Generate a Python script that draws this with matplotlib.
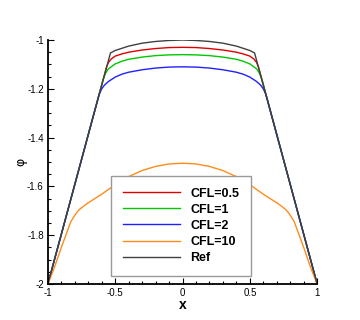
import matplotlib
matplotlib.use("Agg")
import matplotlib.pyplot as plt
from matplotlib.ticker import MultipleLocator, FormatStrFormatter

plt.rcParams['font.family'] = ['Liberation Sans', 'DejaVu Sans']
plt.rcParams['axes.unicode_minus'] = False

# curves
x_ref = [-1, -0.535, -0.5, -0.4, -0.3, -0.2, -0.1, 0, 0.1, 0.2, 0.3, 0.4, 0.5, 0.535, 1]
y_ref = [-2, -1.053, -1.043, -1.025, -1.013, -1.006, -1.002, -1.0,
         -1.002, -1.006, -1.013, -1.025, -1.043, -1.053, -2]

x_05 = [-1, -0.565, -0.55, -0.53, -0.5, -0.45, -0.4, -0.3, -0.2, -0.1, 0,
        0.1, 0.2, 0.3, 0.4, 0.45, 0.5, 0.53, 0.55, 0.565, 1]
y_05 = [-2, -1.112, -1.092, -1.078, -1.066, -1.057, -1.050, -1.041, -1.035, -1.031, -1.03,
        -1.031, -1.035, -1.041, -1.050, -1.057, -1.066, -1.078, -1.092, -1.112, -2]

x_1 = [-1, -0.59, -0.57, -0.55, -0.5, -0.45, -0.4, -0.3, -0.2, -0.1, 0,
       0.1, 0.2, 0.3, 0.4, 0.45, 0.5, 0.55, 0.57, 0.59, 1]
y_1 = [-2, -1.162, -1.135, -1.118, -1.098, -1.087, -1.079, -1.070, -1.064, -1.061, -1.06,
       -1.061, -1.064, -1.070, -1.079, -1.087, -1.098, -1.118, -1.135, -1.162, -2]

x_2 = [-1, -0.62, -0.6, -0.58, -0.55, -0.5, -0.45, -0.4, -0.3, -0.2, -0.1, 0,
       0.1, 0.2, 0.3, 0.4, 0.45, 0.5, 0.55, 0.58, 0.6, 0.62, 1]
y_2 = [-2, -1.224, -1.200, -1.185, -1.170, -1.152, -1.140, -1.132, -1.122, -1.115, -1.111, -1.11,
       -1.111, -1.115, -1.122, -1.132, -1.140, -1.152, -1.170, -1.185, -1.200, -1.224, -2]

x_10 = [-1, -0.95, -0.9, -0.86, -0.83, -0.8, -0.78, -0.76, -0.73, -0.7, -0.6, -0.5, -0.4,
        -0.3, -0.2, -0.1, 0, 0.1, 0.2, 0.3, 0.4, 0.5, 0.6, 0.7, 0.73, 0.76, 0.78, 0.8,
        0.83, 0.86, 0.9, 0.95, 1]
y_10 = [-2, -1.93, -1.85, -1.79, -1.745, -1.718, -1.703, -1.692, -1.679, -1.667, -1.632,
        -1.593, -1.560, -1.535, -1.518, -1.508, -1.505, -1.508, -1.518, -1.535, -1.560,
        -1.593, -1.632, -1.667, -1.679, -1.692, -1.703, -1.718, -1.745, -1.79, -1.85,
        -1.93, -2]

labels = ["CFL=0.5", "CFL=1", "CFL=2", "CFL=10", "Ref"]
colors = ["#e00000", "#00c800", "#2020ff", "#ff8c1a", "#404040"]

fig = plt.figure(figsize=(3.6, 3.2), dpi=100)
ax = fig.add_axes([0.133, 0.1125, 0.748, 0.7625])

ax.plot(x_05, y_05, color=colors[0], lw=1.0, label=labels[0])
ax.plot(x_1, y_1, color=colors[1], lw=1.0, label=labels[1])
ax.plot(x_2, y_2, color=colors[2], lw=1.0, label=labels[2])
ax.plot(x_10, y_10, color=colors[3], lw=1.0, label=labels[3])
ax.plot(x_ref, y_ref, color=colors[4], lw=1.0, label=labels[4])

ax.set_xlim(-1, 1)
ax.set_ylim(-2, -1)
ax.spines['top'].set_visible(False)
ax.spines['right'].set_visible(False)
ax.spines['left'].set_linewidth(1.3)
ax.spines['bottom'].set_linewidth(1.3)

ax.xaxis.set_major_locator(MultipleLocator(0.5))
ax.xaxis.set_minor_locator(MultipleLocator(0.1))
ax.yaxis.set_major_locator(MultipleLocator(0.2))
ax.yaxis.set_minor_locator(MultipleLocator(0.05))
ax.xaxis.set_major_formatter(FormatStrFormatter('%g'))
ax.yaxis.set_major_formatter(FormatStrFormatter('%g'))
ax.tick_params(which='both', direction='in', labelsize=7, width=0.8)
ax.tick_params(which='major', length=4, pad=3)
ax.tick_params(which='minor', length=2.2)

ax.set_xlabel("x", fontsize=10, fontweight='bold', labelpad=0)
ax.set_ylabel("φ", fontsize=9, labelpad=0, family=['DejaVu Sans'])

leg = ax.legend(loc='lower left', bbox_to_anchor=(0.234, 0.033), borderaxespad=0,
                prop={'weight': 'bold', 'size': 9}, handlelength=4.6, handletextpad=0.8,
                labelspacing=0.33, borderpad=0.95, fancybox=False, framealpha=1)
leg.get_frame().set_edgecolor('#999999')
leg.get_frame().set_linewidth(1.0)

fig.savefig("out.png", dpi=100)
